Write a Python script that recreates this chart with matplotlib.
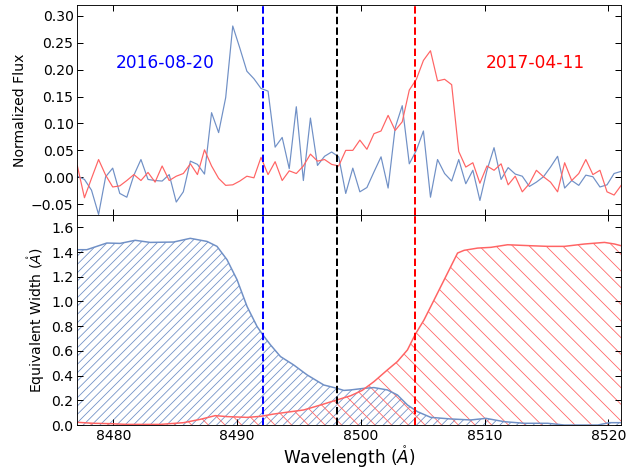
import numpy as np
import matplotlib
matplotlib.use("Agg")
import matplotlib.pyplot as plt

# spectra on a common wavelength grid (Angstrom)
wave_start = 8477.09
wave_step = 0.5706
flux_0820 = [0.002, -0.004, -0.024, -0.069, 0.001, 0.017, -0.030, -0.037, 0.004, 0.033,
             -0.004, -0.006, -0.007, 0.005, -0.046, -0.027, 0.030, 0.024, 0.006, 0.120,
             0.083, 0.148, 0.281, 0.240, 0.197, 0.183, 0.165, 0.160, 0.056, 0.074,
             0.016, 0.131, -0.006, 0.110, 0.022, 0.039, 0.047, 0.038, -0.030, 0.017,
             -0.027, -0.019, 0.010, 0.038, -0.020, 0.092, 0.133, 0.025, 0.050, 0.086,
             -0.037, 0.033, 0.007, -0.007, 0.033, -0.012, 0.013, -0.043, 0.013, 0.055,
             -0.004, 0.018, 0.006, 0.002, -0.017, -0.009, 0.001, 0.019, 0.039, -0.020,
             -0.006, -0.015, 0.004, 0.001, -0.018, -0.014, 0.007, 0.011]
flux_0411 = [0.021, -0.038, -0.002, 0.033, 0.004, -0.018, -0.016, -0.006, 0.005, -0.006,
             0.009, -0.009, 0.021, -0.006, 0.002, 0.007, 0.025, 0.005, 0.051, 0.021,
             -0.002, -0.015, -0.014, -0.007, 0.002, -0.001, 0.037, 0.005, 0.029, -0.006,
             0.012, 0.007, 0.021, 0.043, 0.030, 0.033, 0.024, 0.021, 0.050, 0.050,
             0.069, 0.052, 0.081, 0.086, 0.115, 0.087, 0.103, 0.162, 0.182, 0.217,
             0.235, 0.179, 0.182, 0.172, 0.048, 0.019, 0.027, -0.011, 0.021, 0.013,
             0.025, -0.014, 0.002, -0.027, -0.012, 0.013, 0.001, -0.009, -0.027, 0.027,
             -0.006, 0.007, 0.033, 0.005, 0.013, -0.027, -0.033, -0.015]

# equivalent width curves
ew_wave_0820 = [8477.06, 8477.85, 8478.66, 8479.47, 8480.54, 8481.76, 8482.97, 8484.86,
                8486.21, 8487.56, 8488.37, 8489.18, 8489.99, 8490.80, 8491.61, 8492.07,
                8492.69, 8493.50, 8494.57, 8495.66, 8497.00, 8498.06, 8498.62, 8499.17,
                8500.24, 8501.05, 8502.14, 8502.95, 8503.76, 8504.57, 8505.64, 8507.26,
                8508.88, 8510.10, 8511.58, 8513.20, 8515.09, 8516.44, 8519.14, 8520.08,
                8521.03]
ew_0820 = [1.419, 1.419, 1.446, 1.473, 1.470, 1.495, 1.478, 1.481, 1.511, 1.486, 1.446,
           1.338, 1.176, 0.959, 0.797, 0.730, 0.649, 0.554, 0.486, 0.405, 0.324, 0.297,
           0.280, 0.284, 0.297, 0.303, 0.284, 0.243, 0.162, 0.108, 0.062, 0.049, 0.041,
           0.054, 0.027, 0.014, 0.014, 0.0, 0.0, 0.019, 0.019]
ew_wave_0411 = [8477.09, 8478.38, 8479.73, 8481.08, 8483.78, 8485.67, 8487.02, 8488.23,
                8489.18, 8490.80, 8491.88, 8492.96, 8494.57, 8495.38, 8496.74, 8498.06,
                8499.17, 8500.10, 8501.05, 8502.14, 8502.95, 8503.76, 8504.37, 8505.10,
                8506.19, 8507.00, 8507.81, 8508.34, 8509.43, 8510.50, 8511.85, 8513.74,
                8515.09, 8516.44, 8518.06, 8519.68, 8520.49, 8521.03]
ew_0411 = [0.022, 0.014, 0.011, 0.005, 0.005, 0.019, 0.046, 0.076, 0.068, 0.062, 0.070,
           0.089, 0.111, 0.122, 0.162, 0.203, 0.237, 0.280, 0.351, 0.446, 0.514, 0.608,
           0.730, 0.851, 1.068, 1.230, 1.392, 1.414, 1.432, 1.438, 1.459, 1.451, 1.446,
           1.446, 1.465, 1.478, 1.465, 1.451]

line_blue = 8492.07
line_rest = 8498.06
line_red = 8504.37

c_blue = "#7090c6"
c_red = "#ff6464"

# render at a low dpi so the hatch spacing comes out like the original;
# S turns "pixel-ish" sizes into points at this dpi
DPI = 50
S = 72 / DPI

plt.rcParams.update({
    "axes.linewidth": 0.9 * S,
    "hatch.linewidth": 0.8 * S,
    "xtick.major.pad": 3.5 * S,
    "ytick.major.pad": 3.5 * S,
    "axes.labelpad": 4 * S,
})

wave = wave_start + wave_step * np.arange(len(flux_0820))

fig = plt.figure(figsize=(644 / DPI, 470 / DPI), dpi=DPI)
ax1 = fig.add_axes([0.1196, 0.5426, 0.8444, 0.4468])
ax2 = fig.add_axes([0.1196, 0.0957, 0.8444, 0.4469], sharex=ax1)

ax1.plot(wave, flux_0820, color=c_blue, lw=1.2 * S)
ax1.plot(wave, flux_0411, color=c_red, lw=1.2 * S)
ax1.text(8480.15, 0.212, "2016-08-20", color="blue", fontsize=17 * S, va="center")
ax1.text(8510.08, 0.212, "2017-04-11", color="red", fontsize=17 * S, va="center")
ax1.set_ylim(-0.07, 0.32)
ax1.set_yticks([-0.05, 0.0, 0.05, 0.10, 0.15, 0.20, 0.25, 0.30])
ax1.set_ylabel("Normalized Flux", fontsize=14 * S)
ax1.tick_params(labelbottom=False)

ax2.fill_between(ew_wave_0820, 0, ew_0820, facecolor="none", edgecolor=c_blue,
                 hatch="//", linewidth=0)
ax2.fill_between(ew_wave_0411, 0, ew_0411, facecolor="none", edgecolor=c_red,
                 hatch="\\", linewidth=0)
ax2.plot(ew_wave_0820, ew_0820, color=c_blue, lw=1.5 * S)
ax2.plot(ew_wave_0411, ew_0411, color=c_red, lw=1.5 * S)
ax2.set_ylim(0, 1.7)
ax2.set_yticks(np.arange(0, 1.61, 0.2))
ax2.set_xlim(8477.06, 8521.0)
ax2.set_xticks([8480, 8490, 8500, 8510, 8520])
ax2.set_ylabel(r"Equivalent Width ($\mathring{A}$)", fontsize=14 * S)
ax2.set_xlabel(r"Wavelength ($\mathring{A}$)", fontsize=17 * S, labelpad=2 * S)

for ax in (ax1, ax2):
    ax.axvline(line_blue, color="blue", ls="--", lw=2 * S)
    ax.axvline(line_rest, color="black", ls="--", lw=2 * S)
    ax.axvline(line_red, color="red", ls="--", lw=2 * S)
    ax.tick_params(direction="in", top=True, right=True, length=6 * S, width=S,
                   labelsize=14 * S)

fig.savefig("out.png", dpi=DPI)
